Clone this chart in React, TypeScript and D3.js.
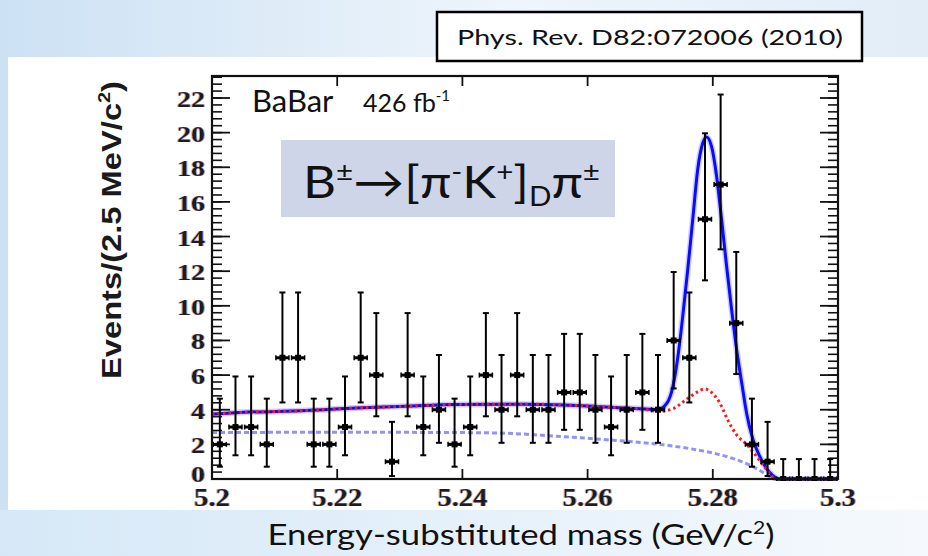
import * as d3 from 'd3'

// mES histogram, 2.5 MeV bins from 5.2 GeV
const binStart = 5.2
const binWidth = 0.0025
const counts = [2, 3, 3, 2, 7, 7, 2, 2, 3, 7, 6, 1, 6, 3, 4, 2, 3, 6, 4, 6, 4, 4, 5, 5, 4, 3, 4, 5, 4, 8, 7, 15, 17, 9, 2, 1, 0, 0, 0, 0]

// error bar ends, per count value
const errCount = [0, 1, 2, 3, 4, 5, 6, 7, 8, 9, 15, 17]
const errLow = [0, 0.17, 0.71, 1.37, 2.09, 2.84, 3.62, 4.42, 5.23, 6.06, 11.47, 13.26]
const errHigh = [1.15, 3.3, 4.64, 5.92, 7.16, 8.38, 9.58, 10.77, 11.95, 13.11, 19.96, 22.2]

// total fit (blue solid)
const fitMass = [5.2, 5.205, 5.215, 5.223, 5.231, 5.239, 5.25, 5.26, 5.265, 5.2684, 5.2712, 5.2727, 5.2736, 5.2744, 5.2752, 5.276, 5.2768, 5.2776, 5.2784, 5.279, 5.2798, 5.2806, 5.2814, 5.2822, 5.283, 5.2838, 5.2846, 5.2854, 5.2864, 5.2875, 5.2886, 5.2896, 5.2905, 5.3]
const fitTotal = [3.75, 3.85, 3.95, 4.1, 4.2, 4.3, 4.32, 4.22, 4.12, 4.06, 4.02, 4.4, 5.3, 7.0, 9.4, 12.1, 15.0, 17.9, 19.4, 19.75, 19.2, 17.5, 15.0, 12.3, 9.8, 7.5, 5.6, 3.8, 2.3, 1.3, 0.6, 0.2, 0, 0]

// total background (red dotted)
const bkgMass = [5.2, 5.205, 5.215, 5.223, 5.231, 5.239, 5.25, 5.26, 5.265, 5.2684, 5.2716, 5.2736, 5.2758, 5.2774, 5.2787, 5.2798, 5.2811, 5.2824, 5.2838, 5.2854, 5.287, 5.2886, 5.2896, 5.2905, 5.3]
const bkgTotal = [3.75, 3.85, 3.95, 4.1, 4.2, 4.3, 4.32, 4.22, 4.12, 4.05, 3.92, 4.05, 4.6, 5.0, 5.2, 5.0, 4.4, 3.4, 2.55, 2.0, 1.3, 0.55, 0.1, 0, 0]

// combinatorial background (blue dashed)
const combMass = [5.2, 5.22, 5.24, 5.247, 5.255, 5.263, 5.271, 5.2764, 5.2806, 5.2843, 5.287, 5.2888, 5.2897, 5.3]
const combBkg = [2.68, 2.7, 2.68, 2.64, 2.47, 2.27, 2.02, 1.75, 1.45, 1.05, 0.6, 0.2, 0, 0]

const xTicks = [5.2, 5.22, 5.24, 5.26, 5.28, 5.3]
const xTickLabels = ['5.2', '5.22', '5.24', '5.26', '5.28', '5.3']
const yTicks = [0, 2, 4, 6, 8, 10, 12, 14, 16, 18, 20, 22]

const W = 928
const H = 556
const frame = { left: 212, right: 838, top: 76, bottom: 479 }

const gill = 'Lato, "Open Sans", sans-serif'
const serifBold = '"Liberation Serif", "DejaVu Serif", serif'

const App = () => {
  const x = d3.scaleLinear().domain([5.2, 5.3]).range([frame.left, frame.right])
  const y = d3.scaleLinear().domain([0, 23.27]).range([frame.bottom, frame.top])

  const curve = (xs: number[], ys: number[]) =>
    d3.line<number>()
      .x((_, i) => x(xs[i]))
      .y(d => y(d))
      .curve(d3.curveMonotoneX)(ys) as string

  const minorY = d3.range(0, 23.27, 0.4)
  const binPx = x(binStart + binWidth) - x(binStart)

  return (
    <svg width={W} height={H} style={{ position: 'absolute', left: 0, top: 0 }}>
      <defs>
        <linearGradient id="slide" x1="0" x2="1" y1="0" y2="0">
          <stop offset="0" stopColor="#cce1f4" />
          <stop offset="0.55" stopColor="#eef5fb" />
          <stop offset="1" stopColor="#e2edf8" />
        </linearGradient>
        <linearGradient id="band" x1="0" x2="1" y1="0" y2="0">
          <stop offset="0" stopColor="#d6e8f7" />
          <stop offset="1" stopColor="#f5f9fd" />
        </linearGradient>
        <clipPath id="plotClip">
          <rect x={frame.left} y={frame.top} width={frame.right - frame.left} height={frame.bottom - frame.top + 2} />
        </clipPath>
        {/* colour fringe of the scanned tick labels */}
        <filter id="fringe" x="-20%" y="-20%" width="140%" height="140%">
          <feOffset in="SourceAlpha" dx={-0.9} result="a" />
          <feFlood floodColor="#e08a2a" floodOpacity={0.7} />
          <feComposite in2="a" operator="in" result="orange" />
          <feOffset in="SourceAlpha" dx={0.9} result="b" />
          <feFlood floodColor="#3a6fd0" floodOpacity={0.6} />
          <feComposite in2="b" operator="in" result="blue" />
          <feMerge>
            <feMergeNode in="orange" />
            <feMergeNode in="blue" />
            <feMergeNode in="SourceGraphic" />
          </feMerge>
        </filter>
      </defs>

      <rect x={0} y={0} width={W} height={H} fill="url(#slide)" />
      <rect x={8} y={57} width={W - 8} height={453} fill="#ffffff" />
      <rect x={0} y={510} width={W} height={H - 510} fill="url(#band)" />

      {/* y axis minor + major ticks, both sides */}
      {minorY.map(v => (
        <g key={'m' + v}>
          <line x1={frame.left} x2={frame.left + 10} y1={y(v)} y2={y(v)} stroke="#111" strokeWidth={1.6} />
          <line x1={frame.right} x2={frame.right - 10} y1={y(v)} y2={y(v)} stroke="#111" strokeWidth={1.6} />
        </g>
      ))}
      {yTicks.map(v => (
        <g key={'t' + v}>
          <line x1={frame.left} x2={frame.left + 18} y1={y(v)} y2={y(v)} stroke="#111" strokeWidth={1.8} />
          <line x1={frame.right} x2={frame.right - 18} y1={y(v)} y2={y(v)} stroke="#111" strokeWidth={1.8} />
          <text x={205} y={y(v) + (v === 0 ? 3 : 9)} textAnchor="end" fontFamily={serifBold} fontWeight="bold"
            fontSize={24} fill="#1c1a24" filter="url(#fringe)"
            textLength={String(v).length * 14} lengthAdjust="spacingAndGlyphs">{v}</text>
        </g>
      ))}

      {xTicks.map((v, i) => (
        <g key={'x' + v}>
          <line x1={x(v)} x2={x(v)} y1={frame.bottom} y2={frame.bottom - 10} stroke="#111" strokeWidth={1.8} />
          <line x1={x(v)} x2={x(v)} y1={frame.top} y2={frame.top + 10} stroke="#111" strokeWidth={1.8} />
          <text x={x(v)} y={506} textAnchor="middle" fontFamily={serifBold} fontWeight="bold"
            fontSize={25} fill="#1c1a24" filter="url(#fringe)"
            textLength={xTickLabels[i].length === 3 ? 36 : 50} lengthAdjust="spacingAndGlyphs">{xTickLabels[i]}</text>
        </g>
      ))}

      <g clipPath="url(#plotClip)">
        <path d={curve(combMass, combBkg)} fill="none" stroke="#6d6dff" strokeWidth={3} strokeDasharray="5 3" opacity={0.75} />
        <path d={curve(fitMass, fitTotal)} fill="none" stroke="#4040ff" strokeWidth={6} opacity={0.25} />
        <path d={curve(fitMass, fitTotal)} fill="none" stroke="#0a0aff" strokeWidth={3} />
        <path d={curve(bkgMass, bkgTotal)} fill="none" stroke="#ff1a1a" strokeWidth={3} strokeDasharray="2.5 3" />

        {counts.map((n, i) => {
          const cx = x(binStart + binWidth * (i + 0.5))
          const k = errCount.indexOf(n)
          const lo = y(errLow[k])
          const hi = y(errHigh[k])
          const cy = y(n)
          const hw = binPx / 2 - 1.3
          return (
            <g key={'b' + i} stroke="#000">
              <line x1={cx} x2={cx} y1={lo} y2={hi} strokeWidth={2} />
              <line x1={cx - 3} x2={cx + 3} y1={hi} y2={hi} strokeWidth={2} />
              <line x1={cx - 3} x2={cx + 3} y1={lo} y2={lo} strokeWidth={2} />
              <line x1={cx - hw} x2={cx + hw} y1={cy} y2={cy} strokeWidth={3} />
              <line x1={cx - hw} x2={cx - hw} y1={cy - 2.5} y2={cy + 2.5} strokeWidth={1.5} />
              <line x1={cx + hw} x2={cx + hw} y1={cy - 2.5} y2={cy + 2.5} strokeWidth={1.5} />
              <rect x={cx - 3} y={cy - 3} width={6} height={6} fill="#000" stroke="none" />
            </g>
          )
        })}
      </g>

      <rect x={frame.left} y={frame.top} width={frame.right - frame.left} height={frame.bottom - frame.top}
        fill="none" stroke="#111" strokeWidth={2.2} />

      {/* axis titles */}
      <text transform="translate(121,230) rotate(-90)" textAnchor="middle" fontFamily='"Liberation Sans", Arial, sans-serif'
        fontWeight="bold" fontSize={28} fill="#1a1a1a" textLength={298} lengthAdjust="spacingAndGlyphs">
        Events/(2.5 MeV/c<tspan fontSize={17} dy={-11}>2</tspan><tspan dy={11}>)</tspan>
      </text>
      <text x={521} y={545} textAnchor="middle" fontFamily={gill} fontSize={28} fill="#111"
        textLength={507} lengthAdjust="spacingAndGlyphs">
        Energy-substituted mass (GeV/c<tspan fontSize={17} dy={-11}>2</tspan><tspan dy={11}>)</tspan>
      </text>

      {/* annotations */}
      <text x={252} y={112} fontFamily={gill} fontSize={31} fill="#111">BaBar</text>
      <text x={363} y={112} fontFamily={gill} fontSize={25} fill="#111">
        426 fb<tspan fontSize={15} dy={-11}>-1</tspan>
      </text>

      <rect x={281} y={140} width={334} height={77} fill="#cfd5e8" />
      <text x={303} y={198} fontFamily={gill} fontSize={45} fill="#111" textLength={297} lengthAdjust="spacingAndGlyphs">
        B<tspan fontSize={26} dy={-17}>±</tspan><tspan dy={17}>→[π</tspan><tspan fontSize={26} dy={-17}>-</tspan><tspan dy={17}>K</tspan><tspan fontSize={26} dy={-17}>+</tspan><tspan dy={17}>]</tspan><tspan fontSize={26} dy={8}>D</tspan><tspan dy={-8}>π</tspan><tspan fontSize={26} dy={-17}>±</tspan>
      </text>

      <rect x={437} y={12} width={425} height={49} fill="#fff" stroke="#000" strokeWidth={2.5} />
      <text x={650} y={45} textAnchor="middle" fontFamily={gill} fontSize={22} fill="#111"
        textLength={386} lengthAdjust="spacingAndGlyphs">Phys. Rev. D82:072006 (2010)</text>
    </svg>
  )
}

export default App
